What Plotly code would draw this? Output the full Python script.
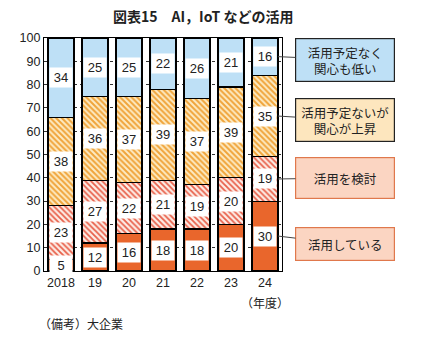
import plotly.graph_objects as go

years = ["2018", "19", "20", "21", "22", "23", "24"]
using = [5, 12, 16, 18, 18, 20, 30]
considering = [23, 27, 22, 21, 19, 20, 19]
rising = [38, 36, 37, 39, 37, 39, 35]
low = [34, 25, 25, 22, 26, 21, 16]

series_names = ["活用している", "活用を検討", "活用予定ないが<br>関心が上昇", "活用予定なく<br>関心も低い"]
series_vals = [using, considering, rising, low]

FONT = "Liberation Sans, Arial, Noto Sans CJK JP, sans-serif"
JP = "Noto Sans CJK JP, Liberation Sans, sans-serif"

styles = [
    dict(color="#E9662C"),
    dict(color="#FCE2D8", pattern=dict(shape="\\", fgcolor="#E8604A", bgcolor="#FDEDE6", size=4, solidity=0.45, fillmode="replace")),
    dict(color="#FCE6B8", pattern=dict(shape="\\", fgcolor="#F0A43A", bgcolor="#FDEBC4", size=4, solidity=0.5, fillmode="replace")),
    dict(color="#BEE0F6"),
]

x = list(range(len(years)))
fig = go.Figure()
for name, vals, st in zip(series_names, series_vals, styles):
    marker = dict(line=dict(color="#000000", width=1.2), **st)
    fig.add_trace(go.Bar(x=x, y=vals, name=name, marker=marker, width=0.76, hoverinfo="skip"))

annotations = []
# value labels in white boxes
bottoms = [0] * len(years)
mids = []
for vals in series_vals:
    m = []
    for i, v in enumerate(vals):
        c = bottoms[i] + v / 2
        m.append(c)
        annotations.append(dict(x=i, y=c, xref="x", yref="y", text=str(v), showarrow=False,
                                bgcolor="white", borderpad=2, width=18,
                                font=dict(family=FONT, size=13, color="#222")))
        bottoms[i] += v
    mids.append(m)

# legend boxes with leader lines
box_specs = [
    # (series index, ax, ay, bg, border, height)
    (3, 67, 3, "#BEE0F6", "#222222", 38),
    (2, 67, 4, "#FDE6BE", "#222222", 38),
    (1, 67, -1, "#FBD5C2", "#E0784C", 36),
    (0, 67, 8, "#FBD5C2", "#E0784C", 28),
]
labels_txt = ["活用している", "活用を検討", "活用予定ないが<br>関心が上昇", "活用予定なく<br>関心も低い"]
for si, ax, ay, bg, bc, h in box_specs:
    last = len(years) - 1
    annotations.append(dict(
        x=last + 0.38, y=mids[si][last], xref="x", yref="y",
        text=labels_txt[si], showarrow=True, arrowhead=0, arrowwidth=1, arrowcolor="#444",
        ax=ax, ay=ay, axref="pixel", ayref="pixel", standoff=0,
        bgcolor=bg, bordercolor=bc, borderwidth=1.2, borderpad=2, width=94, height=h,
        font=dict(family=JP, size=12.5, color="#222"), align="center", valign="middle"))

annotations.append(dict(x=6, y=-0.092, xref="x", yref="paper", text="（年度）", showarrow=False,
                        font=dict(family=JP, size=12, color="#222"), yanchor="top"))
annotations.append(dict(x=-0.03, y=-0.18, xref="paper", yref="paper", text="（備考）大企業", showarrow=False,
                        xanchor="left", yanchor="top", font=dict(family=JP, size=12, color="#222")))
annotations.append(dict(x=0.672, y=1.094, xref="paper", yref="paper", text="<b>図表15　AI，IoT などの活用</b>",
                        showarrow=False, xanchor="center", yanchor="middle",
                        font=dict(family=JP, size=14, color="#222")))

fig.update_layout(
    width=430, height=339,
    margin=dict(l=44, r=148, t=38, b=68),
    barmode="stack", bargap=0.24,
    paper_bgcolor="white", plot_bgcolor="white",
    showlegend=False,
    annotations=annotations,
    font=dict(family=FONT, size=12, color="#222"),
)
fig.update_xaxes(tickmode="array", tickvals=x, ticktext=years, range=[-0.5, len(years) - 0.5],
                 showline=True, mirror=True, linecolor="#000", linewidth=1.2, ticks="",
                 tickfont=dict(family=FONT, size=12.5, color="#222"), showgrid=False)
fig.update_yaxes(range=[0, 100], dtick=10, showline=True, mirror=True, linecolor="#000", linewidth=1.2,
                 showgrid=True, gridcolor="#333", griddash="3px,3px", gridwidth=1, ticks="",
                 tickfont=dict(family=FONT, size=12.5, color="#222"), zeroline=False)

fig.write_html("out.html")
